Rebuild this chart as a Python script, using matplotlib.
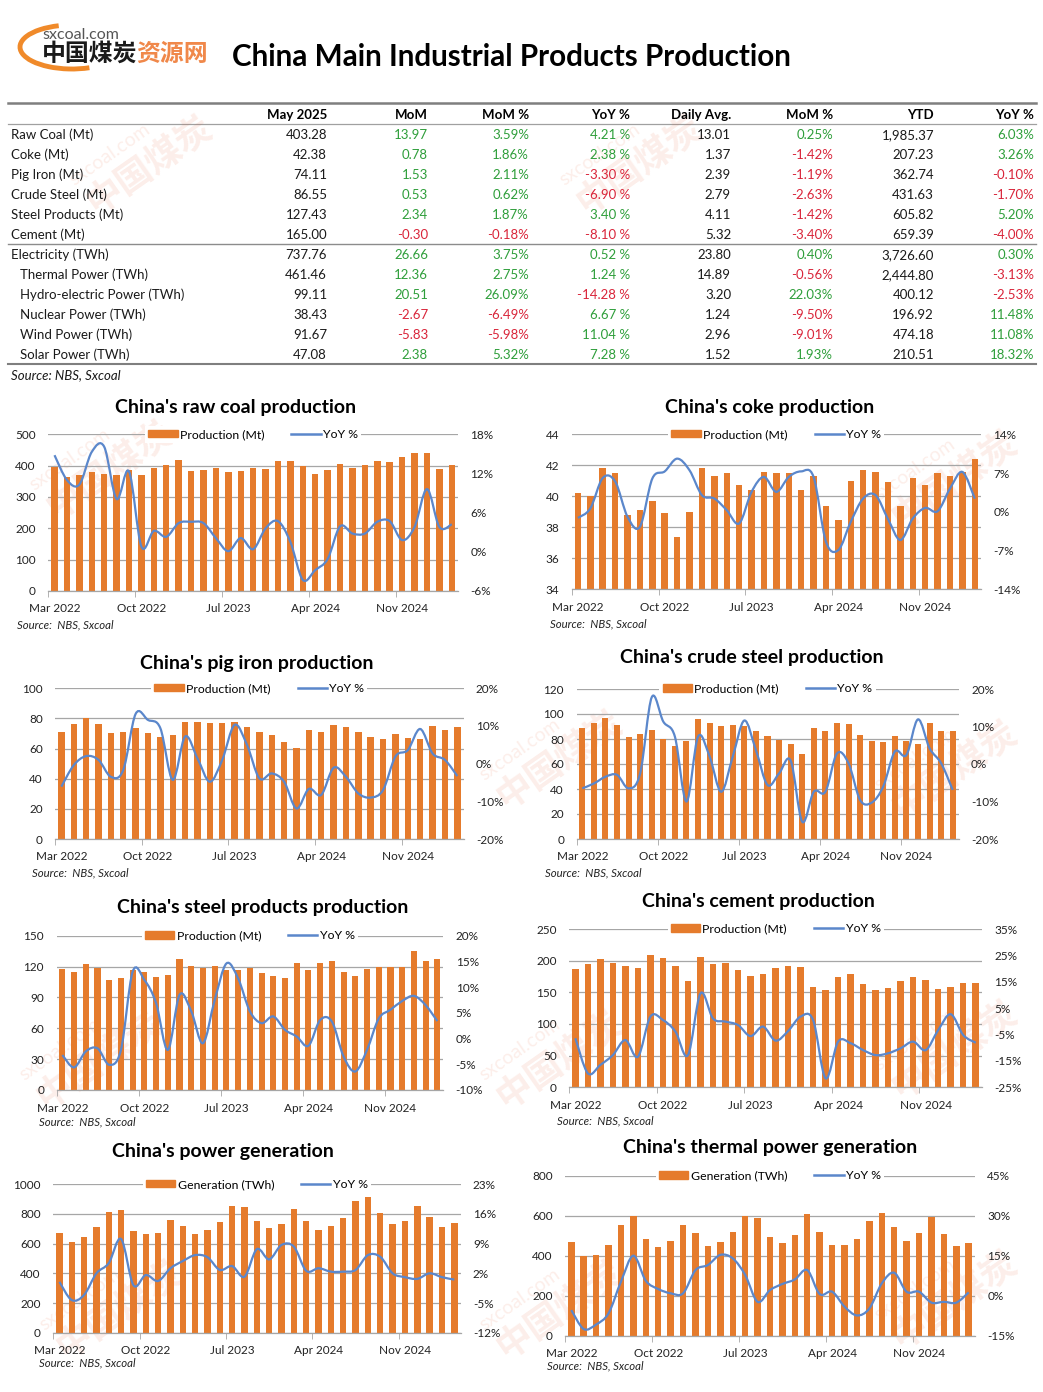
import numpy as np
import matplotlib
matplotlib.use("Agg")
from matplotlib import pyplot as plt
from matplotlib.path import Path
from matplotlib.patches import PathPatch, Patch, Arc
from matplotlib.lines import Line2D
from matplotlib.ticker import FuncFormatter

W, H = 1043, 1392
FONT = ["Lato", "DejaVu Sans"]
CJK = ["Noto Sans CJK SC", "DejaVu Sans"]
plt.rcParams["font.family"] = FONT

BAR_COLOR = "#E57B2C"
LINE_COLOR = "#5B87CB"
GRID = "#A6A6A6"
GREEN = "#2E9E3A"
RED = "#D9253A"

# categories (NBS publishes no separate Jan / Feb figures)
months = ["Mar 2022", "Apr 2022", "May 2022", "Jun 2022", "Jul 2022", "Aug 2022", "Sep 2022",
          "Oct 2022", "Nov 2022", "Dec 2022", "Mar 2023", "Apr 2023", "May 2023", "Jun 2023",
          "Jul 2023", "Aug 2023", "Sep 2023", "Oct 2023", "Nov 2023", "Dec 2023", "Mar 2024",
          "Apr 2024", "May 2024", "Jun 2024", "Jul 2024", "Aug 2024", "Sep 2024", "Oct 2024",
          "Nov 2024", "Dec 2024", "Mar 2025", "Apr 2025", "May 2025"]
tick_labels = ["Mar 2022", "Oct 2022", "Jul 2023", "Apr 2024", "Nov 2024"]

coal_output = [397, 365, 370, 380, 373, 370, 386, 370, 394, 402, 418, 383, 386, 393, 380, 383, 393,
               389, 415, 415, 400, 373, 386, 405, 393, 401, 415, 412, 428, 440, 440, 389, 403.28]
coal_yoy = [14.8, 11.0, 10.3, 15.3, 16.1, 8.1, 12.3, 0.8, 3.2, 2.3, 4.4, 4.6, 4.4, 2.1, 0.1, 2.1, 0.4,
            3.6, 4.7, 1.5, -4.3, -2.8, -1.1, 3.9, 2.8, 2.8, 4.6, 4.7, 1.8, 3.8, 9.6, 3.8, 4.21]

coke_output = [40.2, 40.0, 41.8, 41.5, 38.8, 39.1, 39.7, 38.9, 37.4, 39.0, 41.8, 41.3, 41.5, 40.7, 40.4,
               41.6, 41.5, 41.5, 40.4, 41.3, 39.4, 38.5, 41.0, 41.7, 41.6, 40.9, 39.4, 41.2, 40.7, 41.5,
               41.3, 41.6, 42.38]
coke_yoy = [-1.1, 0.6, 6.1, 5.5, -0.9, -2.7, 6.0, 7.3, 9.6, 7.5, 3.0, 2.4, 0.3, -2.1, 3.6, 6.3, 3.6, 6.3,
            7.3, 6.3, -5.4, -6.9, -1.8, 2.4, 3.0, -1.3, -5.1, -1.2, 0.7, 0.1, 4.2, 7.2, 2.38]

pig_output = [71.2, 76.3, 80.5, 76.3, 70.4, 71.2, 73.9, 70.4, 67.7, 69.0, 77.4, 77.7, 77.0, 77.0, 77.7,
              74.3, 71.0, 69.0, 64.4, 60.4, 72.3, 71.0, 75.7, 74.3, 71.0, 67.7, 66.4, 69.7, 67.0, 66.4,
              75.0, 72.3, 74.11]
pig_yoy = [-6.1, -0.4, 2.0, 1.0, -3.5, -1.7, 13.2, 11.6, 9.4, -4.3, 7.2, 1.4, -4.8, 1.0, 10.3, 5.0, -3.9,
           -2.6, -4.8, -11.9, -6.7, -8.3, -1.1, -3.5, -7.9, -9.0, -7.0, 1.9, 3.6, 9.2, 2.7, 1.0, -3.30]

crude_output = [88.8, 93.1, 96.8, 91.2, 81.6, 84.0, 87.2, 80.3, 74.4, 78.4, 96.0, 92.8, 90.4, 91.2, 90.4,
                86.4, 82.4, 79.5, 76.0, 68.0, 88.8, 86.7, 92.8, 92.0, 83.2, 78.4, 77.6, 82.4, 78.4, 76.0,
                92.8, 86.4, 86.55]
crude_yoy = [-6.5, -5.2, -3.4, -2.9, -6.5, -2.5, 17.8, 11.3, 7.3, -10.0, 7.3, 2.0, -7.4, 2.0, 11.6, 3.7,
             -5.6, -2.5, 0.9, -15.4, -7.4, -7.4, 2.8, 0.2, -9.6, -10.3, -6.0, 3.3, 2.4, 11.9, 4.2, 0.2, -6.90]

products_output = [117.6, 114.7, 122.4, 118.6, 106.9, 108.8, 116.6, 114.7, 109.8, 111.8, 127.3, 120.5,
                   118.6, 120.5, 116.6, 116.6, 118.6, 113.7, 110.8, 108.8, 123.4, 116.6, 123.4, 125.4,
                   114.7, 110.8, 117.6, 119.5, 119.5, 119.5, 135.1, 125.4, 127.43]
products_yoy = [-3.2, -5.6, -2.5, -1.9, -5.1, -2.2, 13.0, 11.4, 6.9, -2.2, 8.5, 5.3, -0.9, 7.5, 14.6, 11.7,
                5.3, 3.0, 4.3, 1.7, 0.4, -1.4, 3.6, 3.3, -3.5, -6.4, -2.2, 3.9, 5.6, 7.3, 8.3, 6.5, 3.40]

cement_output = [186.8, 194.7, 202.6, 196.3, 191.6, 188.4, 208.9, 204.7, 191.6, 167.9, 206.3, 194.7,
                 196.3, 185.3, 175.8, 178.9, 188.4, 191.6, 190.0, 158.4, 153.7, 174.2, 178.9, 163.2,
                 153.7, 156.8, 167.9, 174.2, 169.5, 155.3, 158.4, 164.7, 165.00]
cement_yoy = [-6.4, -19.7, -16.5, -12.8, -7.1, -13.4, 1.8, 0.5, -3.9, -12.8, 10.6, 1.1, -0.1, -1.4, -5.6,
              -2.0, -7.3, -3.7, 1.8, 0.5, -21.6, -7.7, -8.3, -10.9, -12.8, -12.1, -10.2, -7.7, -10.9,
              -3.3, 2.7, -5.2, -8.10]

power_output = [674, 613, 647, 715, 813, 827, 685, 665, 672, 760, 721, 665, 692, 746, 856, 847, 753, 706,
                733, 834, 753, 692, 721, 773, 888, 917, 804, 733, 753, 854, 780, 712, 737.76]
power_yoy = [0.0, -4.3, -3.1, 2.0, 4.4, 10.1, -0.8, 1.6, 0.2, 3.2, 4.9, 6.3, 5.8, 2.8, 3.7, 1.2, 7.7, 5.3,
             8.7, 8.3, 2.6, 3.2, 2.4, 2.4, 2.8, 6.3, 5.9, 2.0, 1.1, 0.7, 2.0, 1.1, 0.52]

thermal_output = [470, 398, 403, 453, 553, 600, 483, 445, 473, 553, 513, 448, 468, 518, 598, 588, 493,
                  463, 503, 608, 518, 453, 453, 483, 573, 613, 543, 473, 513, 595, 508, 448, 461.46]
thermal_yoy = [-5.4, -12.5, -10.8, -6.6, 5.3, 15.0, 5.6, 2.5, 0.9, 0.9, 9.6, 11.5, 15.3, 14.0, 7.8, -2.3,
               2.1, 4.4, 6.1, 9.6, 0.6, 1.5, -4.1, -7.4, -4.8, 4.6, 8.6, 1.5, 1.5, -2.6, -2.3, -2.6, 1.24]

# summary table
table_cols = ["May 2025", "MoM", "MoM %", "YoY %", "Daily Avg.", "MoM %", "YTD", "YoY %"]
table_rows = ["Raw Coal (Mt)", "Coke (Mt)", "Pig Iron (Mt)", "Crude Steel (Mt)", "Steel Products (Mt)",
              "Cement (Mt)", "Electricity (TWh)", "Thermal Power (TWh)", "Hydro-electric Power (TWh)",
              "Nuclear Power (TWh)", "Wind Power (TWh)", "Solar Power (TWh)"]
may_2025 = [403.28, 42.38, 74.11, 86.55, 127.43, 165.00, 737.76, 461.46, 99.11, 38.43, 91.67, 47.08]
mom = [13.97, 0.78, 1.53, 0.53, 2.34, -0.30, 26.66, 12.36, 20.51, -2.67, -5.83, 2.38]
mom_pct = [3.59, 1.86, 2.11, 0.62, 1.87, -0.18, 3.75, 2.75, 26.09, -6.49, -5.98, 5.32]
yoy_pct = [4.21, 2.38, -3.30, -6.90, 3.40, -8.10, 0.52, 1.24, -14.28, 6.67, 11.04, 7.28]
daily_avg = [13.01, 1.37, 2.39, 2.79, 4.11, 5.32, 23.80, 14.89, 3.20, 1.24, 2.96, 1.52]
daily_mom_pct = [0.25, -1.42, -1.19, -2.63, -1.42, -3.40, 0.40, -0.56, 22.03, -9.50, -9.01, 1.93]
ytd = [1985.37, 207.23, 362.74, 431.63, 605.82, 659.39, 3726.60, 2444.80, 400.12, 196.92, 474.18, 210.51]
ytd_yoy_pct = [6.03, 3.26, -0.10, -1.70, 5.20, -4.00, 0.30, -3.13, -2.53, 11.48, 11.08, 18.32]


def smooth_path(x, y):
    # Excel-like smoothed line drawn as cubic Bezier segments through the points
    pts = np.column_stack([x, y]).astype(float)
    ext = np.vstack([pts[0], pts, pts[-1]])
    verts = [pts[0]]
    codes = [Path.MOVETO]
    for i in range(len(pts) - 1):
        p0, p1, p2, p3 = ext[i], ext[i + 1], ext[i + 2], ext[i + 3]
        verts += [p1 + (p2 - p0) / 6, p2 - (p3 - p1) / 6, p2]
        codes += [Path.CURVE4] * 3
    return Path(verts, codes)


fig = plt.figure(figsize=(W / 100, H / 100), dpi=100)
bg = fig.add_axes([0, 0, 1, 1])
bg.set_xlim(0, W)
bg.set_ylim(H, 0)
bg.axis("off")
bg.set_zorder(-5)

# faint watermarks
for wx, wy in [(150, 165), (640, 165), (110, 470), (955, 480), (560, 760), (955, 770),
               (560, 1060), (955, 1050), (120, 1310), (560, 1310), (955, 1300), (100, 1060)]:
    bg.text(wx, wy, "中国煤炭", family=CJK, fontsize=26, fontweight="bold", color="#E8562A",
            alpha=0.10, rotation=35, ha="center", va="center")
    bg.text(wx - 40, wy - 10, "sxcoal.com", fontsize=14, color="#E8562A", alpha=0.10,
            rotation=35, ha="center", va="center")

# logo
bg.add_patch(Arc((72, 47), 104, 44, theta1=50, theta2=238, color="#F08A2A", lw=3.5))
bg.text(42, 35, "sxcoal.com", fontsize=11.5, color="#555555", va="center")
bg.text(42, 54, "中国煤炭", family=CJK, fontsize=17.2, fontweight="heavy", color="#1A1A1A", va="center")
bg.text(136, 54, "资源网", family=CJK, fontsize=17.2, fontweight="heavy", color="#F0884A", va="center")
bg.text(232, 57, "China Main Industrial Products Production", fontsize=21.3, fontweight="bold",
        color="black", va="center")

# table
col_right = [327, 428, 529, 630, 731, 833, 934, 1034]
bg.plot([8, 1036], [103, 103], color="#7F7F7F", lw=1.8)
bg.plot([8, 1036], [123.5, 123.5], color="#A0A0A0", lw=0.9)
bg.plot([8, 1036], [243.5, 243.5], color="#8C8C8C", lw=1.0)
bg.plot([8, 1036], [363.5, 363.5], color="#7F7F7F", lw=1.5)
for cx, name in zip(col_right, table_cols):
    bg.text(cx, 115, name, fontsize=9.5, fontweight="bold", ha="right", va="center")


def sign_color(v):
    return GREEN if v >= 0 else RED


for i, name in enumerate(table_rows):
    ty = 135 + 20 * i
    bg.text(11 if i < 7 else 20, ty, name, fontsize=9.5, va="center", color="#1A1A1A")
    cells = [
        (f"{may_2025[i]:,.2f}", "#1A1A1A"),
        (f"{mom[i]:.2f}", sign_color(mom[i])),
        (f"{mom_pct[i]:.2f}%", sign_color(mom_pct[i])),
        (f"{yoy_pct[i]:.2f} %", sign_color(yoy_pct[i])),
        (f"{daily_avg[i]:.2f}", "#1A1A1A"),
        (f"{daily_mom_pct[i]:.2f}%", sign_color(daily_mom_pct[i])),
        (f"{ytd[i]:,.2f}", "#1A1A1A"),
        (f"{ytd_yoy_pct[i]:.2f}%", sign_color(ytd_yoy_pct[i])),
    ]
    for cx, (txt, col) in zip(col_right, cells):
        bg.text(cx, ty, txt, fontsize=9.5, ha="right", va="center", color=col)
bg.text(11, 375, "Source: NBS, Sxcoal", fontsize=9.5, style="italic", va="center", color="#1A1A1A")


def panel(rect, title, title_x, title_y, src_x, src_y, values, yoy, ylim, ystep, rlim, rstep, bar_label):
    x0, x1, y_top, y_bot = rect
    ax = fig.add_axes([x0 / W, 1 - y_bot / H, (x1 - x0) / W, (y_bot - y_top) / H])
    ax.set_facecolor("none")
    idx = np.arange(len(months))
    ax.bar(idx, values, width=0.52, color=BAR_COLOR, zorder=2)
    ax.set_xlim(-0.5, len(months) - 0.5)
    ax.set_ylim(*ylim)
    ax.set_yticks(np.arange(ylim[0], ylim[1] + ystep / 2, ystep))
    ax.grid(axis="y", color=GRID, lw=0.9)
    ax.set_axisbelow(True)
    for s in ["top", "right", "left"]:
        ax.spines[s].set_visible(False)
    ax.spines["bottom"].set_color(GRID)
    ax.spines["bottom"].set_linewidth(0.9)
    pos = [months.index(t) for t in tick_labels]
    ax.set_xticks(pos)
    ax.set_xticklabels(tick_labels)
    ax.set_xticks([p - 0.5 for p in pos], minor=True)
    ax.tick_params(axis="x", which="major", length=0, pad=9, labelsize=8.5, colors="#222222")
    ax.tick_params(axis="x", which="minor", length=4, color=GRID)
    ax.tick_params(axis="y", length=0, pad=9, labelsize=8.5, colors="#222222")

    ax2 = ax.twinx()
    ax2.set_ylim(*rlim)
    ax2.set_yticks(np.arange(rlim[0], rlim[1] + rstep / 2, rstep))
    ax2.yaxis.set_major_formatter(FuncFormatter(lambda v, _: f"{v:.0f}%"))
    ax2.tick_params(axis="y", length=0, pad=9, labelsize=8.5, colors="#222222")
    for s in ax2.spines.values():
        s.set_visible(False)
    ax2.add_patch(PathPatch(smooth_path(idx, yoy), facecolor="none", edgecolor=LINE_COLOR,
                            lw=1.6, zorder=3, clip_on=False))

    handles = [Patch(color=BAR_COLOR, label=bar_label), Line2D([], [], color=LINE_COLOR, lw=1.8, label="YoY %")]
    leg = ax2.legend(handles=handles, loc="center", bbox_to_anchor=(0.5, 1.0), ncol=2, fontsize=8.8,
                     frameon=True, facecolor="white", edgecolor="none", framealpha=1, fancybox=False,
                     borderpad=0.25, handlelength=2.4, handleheight=0.6, handletextpad=0.2,
                     columnspacing=2.2, borderaxespad=0)
    leg.set_zorder(10)

    bg.text(title_x, title_y, title, fontsize=14, fontweight="bold", ha="center", va="center")
    bg.text(src_x, src_y, "Source:  NBS, Sxcoal", fontsize=8.2, style="italic", va="center", color="#222222")


panel((48.3, 458, 434.3, 591), "China's raw coal production", 236, 408, 17, 625,
      coal_output, coal_yoy, (0, 500), 100, (-6, 18), 6, "Production (Mt)")
panel((571.7, 981, 434.3, 589.3), "China's coke production", 770, 408, 550, 624,
      coke_output, coke_yoy, (34, 44), 2, (-14, 14), 7, "Production (Mt)")
panel((55.2, 463.5, 688.3, 839), "China's pig iron production", 257, 663, 32, 873,
      pig_output, pig_yoy, (0, 100), 20, (-20, 20), 10, "Production (Mt)")
panel((576.5, 958.5, 689, 839), "China's crude steel production", 752, 658, 545, 873,
      crude_output, crude_yoy, (0, 120), 20, (-20, 20), 10, "Production (Mt)")
panel((56.5, 443.2, 935.7, 1090), "China's steel products production", 263, 907, 39, 1122,
      products_output, products_yoy, (0, 150), 30, (-10, 20), 5, "Production (Mt)")
panel((569.1, 982, 929, 1087.3), "China's cement production", 758, 902, 557, 1121,
      cement_output, cement_yoy, (0, 250), 50, (-25, 35), 10, "Production (Mt)")
panel((53.2, 460.5, 1184.3, 1332.7), "China's power generation", 223, 1152, 39, 1363,
      power_output, power_yoy, (0, 1000), 200, (-12, 23), 7, "Generation (TWh)")
panel((565.1, 974.9, 1175.7, 1335.7), "China's thermal power generation", 770, 1147, 547, 1366,
      thermal_output, thermal_yoy, (0, 800), 200, (-15, 45), 15, "Generation (TWh)")

fig.savefig("out.png", dpi=100, facecolor="white")
